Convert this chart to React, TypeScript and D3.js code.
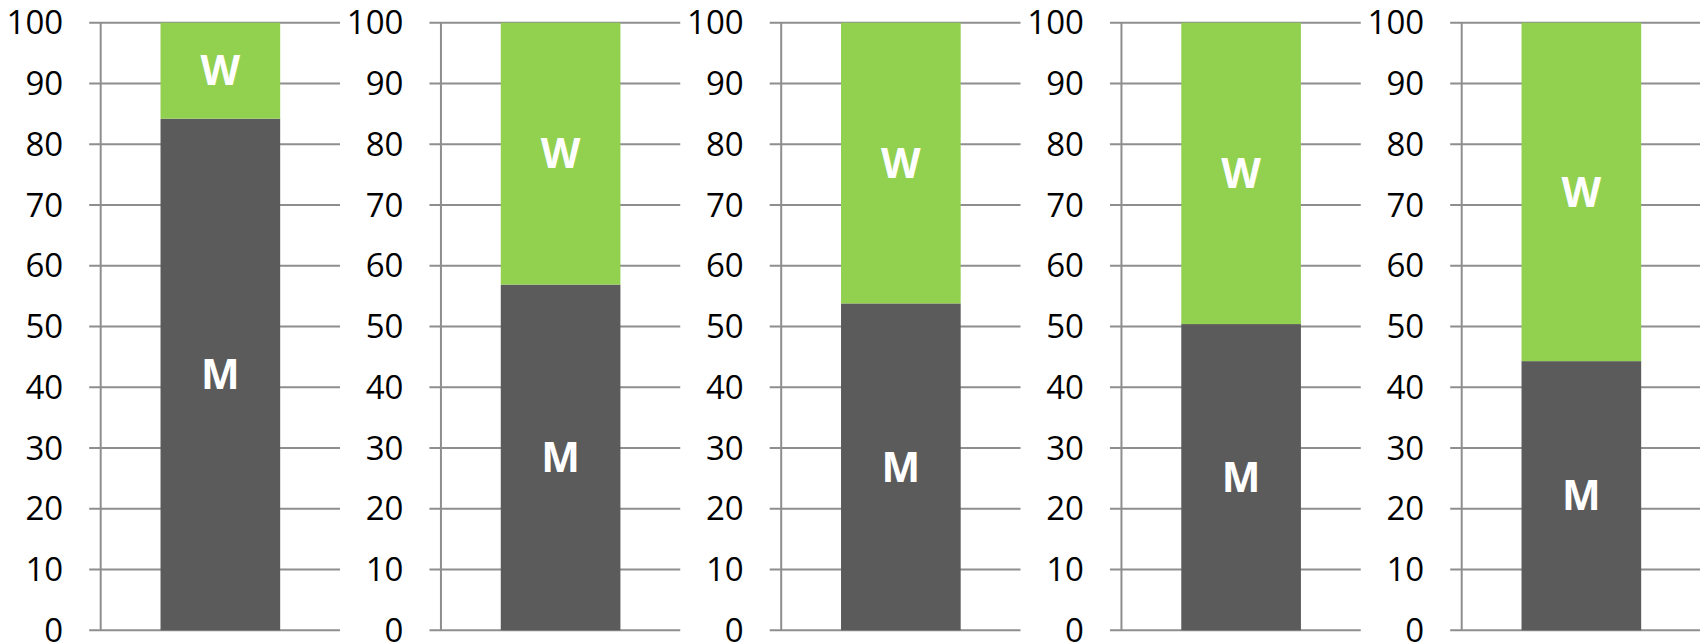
import React from "react";
import * as d3 from "d3";

const panels = ["P1", "P2", "P3", "P4", "P5"];
const menValues = [84.2, 56.9, 53.8, 50.4, 44.3];
const womenValues = [15.8, 43.1, 46.2, 49.6, 55.7];
const seriesLabels = ["M", "W"];
const seriesColors = ["#5b5b5b", "#92d050"];
const yTicks = [0, 10, 20, 30, 40, 50, 60, 70, 80, 90, 100];

const W = 1700;
const H = 644;

export default function App() {
  const y = d3.scaleLinear().domain([0, 100]).range([630.3, 22.7]);
  const panelX = d3
    .scaleLinear()
    .domain([0, panels.length - 1])
    .range([100.7, 100.7 + 340.25 * (panels.length - 1)]);
  const plotW = 239.3;
  const gridColor = "#8e8e8e";

  return (
    <svg
      width={W}
      height={H}
      style={{ position: "absolute", left: 0, top: 0, background: "#fff" }}
    >
      {panels.map((p, i) => {
        const ax = panelX(i);
        const xb = d3
          .scaleBand()
          .domain([p])
          .range([ax, ax + plotW])
          .paddingInner(0.5)
          .paddingOuter(0.25);
        const stack = [
          { key: seriesLabels[0], y0: 0, y1: menValues[i], color: seriesColors[0] },
          {
            key: seriesLabels[1],
            y0: menValues[i],
            y1: menValues[i] + womenValues[i],
            color: seriesColors[1],
          },
        ];
        const bx = xb(p) as number;
        const bw = xb.bandwidth();
        return (
          <g key={p}>
            {yTicks.map((t) => (
              <g key={t}>
                <line
                  x1={ax - 11.5}
                  x2={ax + plotW}
                  y1={y(t)}
                  y2={y(t)}
                  stroke={gridColor}
                  strokeWidth={2}
                />
                <text
                  x={ax - 37.5}
                  y={y(t)}
                  dy="0.35em"
                  textAnchor="end"
                  fontFamily="'Open Sans', Lato, sans-serif"
                  fontSize={33}
                  fill="#000"
                >
                  {t}
                </text>
              </g>
            ))}
            <line
              x1={ax}
              x2={ax}
              y1={y(100)}
              y2={y(0)}
              stroke={gridColor}
              strokeWidth={2}
            />
            {stack.map((s) => (
              <rect
                key={s.key}
                x={bx}
                width={bw}
                y={y(s.y1)}
                height={y(s.y0) - y(s.y1)}
                fill={s.color}
              />
            ))}
            {stack.map((s) => (
              <text
                key={s.key + "-l"}
                x={bx + bw / 2}
                y={y((s.y0 + s.y1) / 2)}
                dy="0.36em"
                textAnchor="middle"
                fontFamily="'Open Sans', 'DejaVu Sans', sans-serif"
                fontWeight="bold"
                fontSize={41}
                fill="#fff"
              >
                {s.key}
              </text>
            ))}
          </g>
        );
      })}
    </svg>
  );
}
